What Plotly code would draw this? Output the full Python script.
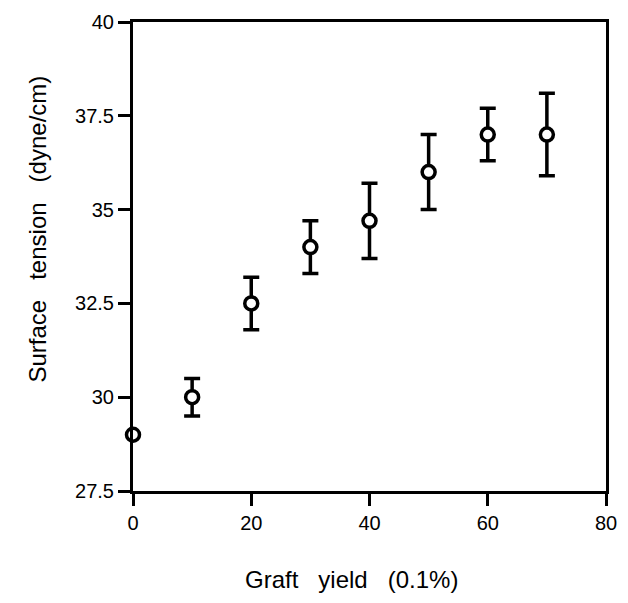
import plotly.graph_objects as go

graft_yield = [0, 10, 20, 30, 40, 50, 60, 70]
surface_tension = [29.0, 30.0, 32.5, 34.0, 34.7, 36.0, 37.0, 37.0]
err_plus = [0.0, 0.5, 0.7, 0.7, 1.0, 1.0, 0.7, 1.1]
err_minus = [0.0, 0.5, 0.7, 0.7, 1.0, 1.0, 0.7, 1.1]

x_ticks = [0, 20, 40, 60, 80]
y_ticks = [27.5, 30, 32.5, 35, 37.5, 40]
y_labels = ["27.5", "30", "32.5", "35", "37.5", "40"]

x_title = "Graft\u00a0\u00a0 yield\u00a0\u00a0 (0.1%)"
y_title = "Surface\u00a0\u00a0 tension\u00a0\u00a0 (dyne/cm)"

fig = go.Figure()
fig.add_trace(go.Scatter(
    x=graft_yield, y=surface_tension, mode="markers",
    marker=dict(symbol="circle", size=13, color="white",
                line=dict(color="black", width=3.5)),
    error_y=dict(type="data", symmetric=False, array=err_plus,
                 arrayminus=err_minus, color="black", thickness=3.5, width=8),
    cliponaxis=False, showlegend=False,
))

axis_common = dict(showgrid=False, zeroline=False, showline=True,
                   linecolor="black", linewidth=3, mirror=True,
                   ticks="outside", ticklen=12, tickwidth=3, tickcolor="black",
                   tickfont=dict(family="Liberation Sans", size=20, color="black"))

fig.update_xaxes(range=[0, 80], tickvals=x_ticks, ticktext=[str(v) for v in x_ticks],
                 **axis_common)
fig.update_yaxes(range=[27.5, 40], tickvals=y_ticks, ticktext=y_labels,
                 **axis_common)

title_font = dict(family="Liberation Sans", size=24, color="black")
fig.add_annotation(text=x_title, xref="paper", yref="paper", x=0.461, y=-0.189,
                   xanchor="center", yanchor="middle", showarrow=False, font=title_font)
fig.add_annotation(text=y_title, xref="paper", yref="paper", x=-0.2025, y=0.558,
                   xanchor="center", yanchor="middle", textangle=-90,
                   showarrow=False, font=title_font)

fig.update_layout(width=628, height=603, margin=dict(l=133, r=11, t=20, b=112),
                  plot_bgcolor="white", paper_bgcolor="white")

fig.write_html("out.html")
